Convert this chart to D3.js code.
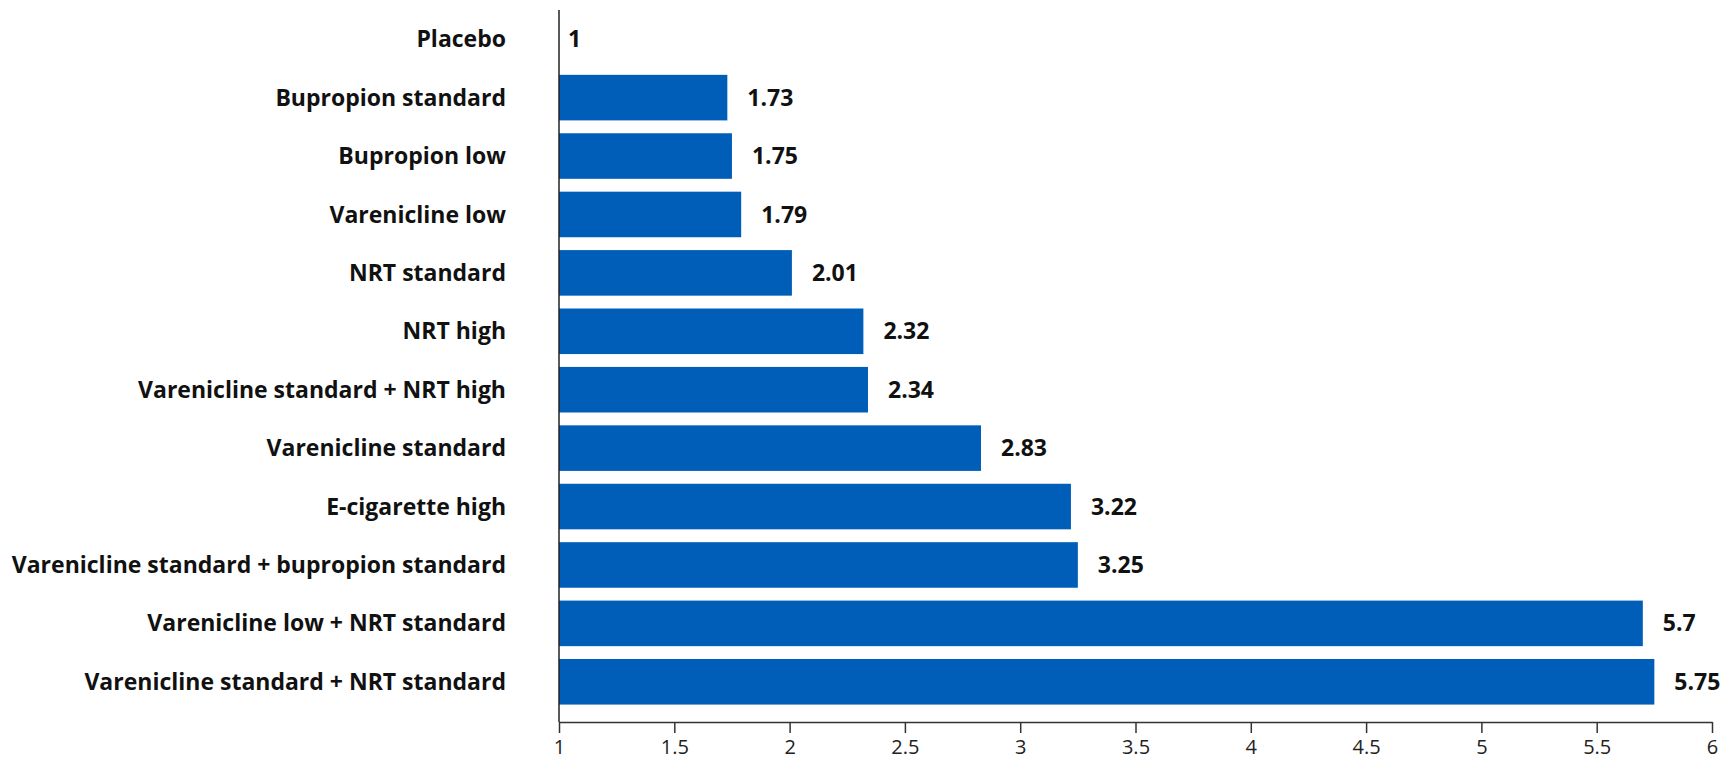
<!DOCTYPE html>
<html>
<head>
<meta charset="utf-8">
<script src="https://cdn.jsdelivr.net/npm/d3@7"></script>
<style>
  body { margin: 0; background: #fff; }
  text { font-family: "Open Sans", "Noto Sans", sans-serif; }
</style>
</head>
<body>
<div id="chart"></div>
<script>
// Treatments and their values, top to bottom
const treatments = [
    "Placebo",
    "Bupropion standard",
    "Bupropion low",
    "Varenicline low",
    "NRT standard",
    "NRT high",
    "Varenicline standard + NRT high",
    "Varenicline standard",
    "E-cigarette high",
    "Varenicline standard + bupropion standard",
    "Varenicline low + NRT standard",
    "Varenicline standard + NRT standard"
];
const values = [1, 1.73, 1.75, 1.79, 2.01, 2.32, 2.34, 2.83, 3.22, 3.25, 5.7, 5.75];
const tickValues = [1, 1.5, 2, 2.5, 3, 3.5, 4, 4.5, 5, 5.5, 6];

const width = 1721, height = 761;
const margin = { top: 10, right: 9, bottom: 47, left: 559 };
const barColor = "#005eb8";

const svg = d3.select("#chart")
    .append("svg")
    .attr("width", width)
    .attr("height", height);

const x = d3.scaleLinear()
    .domain([1, 6])
    .range([margin.left, width - margin.right]);

const y = d3.scaleBand()
    .domain(treatments)
    .range([margin.top, height - margin.bottom - 3])
    .paddingInner(0.22)
    .paddingOuter(0.11);

// bars
svg.selectAll("rect.bar")
    .data(treatments)
    .join("rect")
    .attr("class", "bar")
    .attr("x", x(1))
    .attr("y", d => y(d))
    .attr("width", (d, i) => x(values[i]) - x(1))
    .attr("height", y.bandwidth())
    .attr("fill", barColor);

// value labels
svg.selectAll("text.val")
    .data(treatments)
    .join("text")
    .attr("class", "val")
    .attr("x", (d, i) => x(values[i]) + (values[i] === 1 ? 9 : 20))
    .attr("y", d => y(d) + y.bandwidth() / 2)
    .attr("dy", "0.35em")
    .attr("font-size", "23px")
    .attr("font-weight", "bold")
    .attr("fill", "#111")
    .text((d, i) => values[i]);

// category labels
svg.selectAll("text.cat")
    .data(treatments)
    .join("text")
    .attr("class", "cat")
    .attr("x", margin.left - 53)
    .attr("y", d => y(d) + y.bandwidth() / 2)
    .attr("dy", "0.35em")
    .attr("text-anchor", "end")
    .attr("font-size", "23px")
    .attr("font-weight", "bold")
    .attr("fill", "#111")
    .text(d => d);

// x axis
const axisY = height - margin.bottom + 8;
const xAxis = svg.append("g")
    .attr("transform", `translate(0,${axisY})`)
    .call(d3.axisBottom(x).tickValues(tickValues).tickSize(11).tickSizeOuter(0).tickPadding(7).tickFormat(d3.format("")));
xAxis.select(".domain").attr("stroke", "#333").attr("stroke-width", 1.5);
xAxis.selectAll(".tick line").attr("stroke", "#333").attr("stroke-width", 1.5);
xAxis.selectAll(".tick text")
    .attr("font-size", "20px")
    .attr("fill", "#222")
    .style("font-family", "'Open Sans', sans-serif");

// vertical baseline
svg.append("line")
    .attr("x1", x(1)).attr("x2", x(1))
    .attr("y1", margin.top).attr("y2", axisY)
    .attr("stroke", "#222")
    .attr("stroke-width", 1.5);
</script>
</body>
</html>
